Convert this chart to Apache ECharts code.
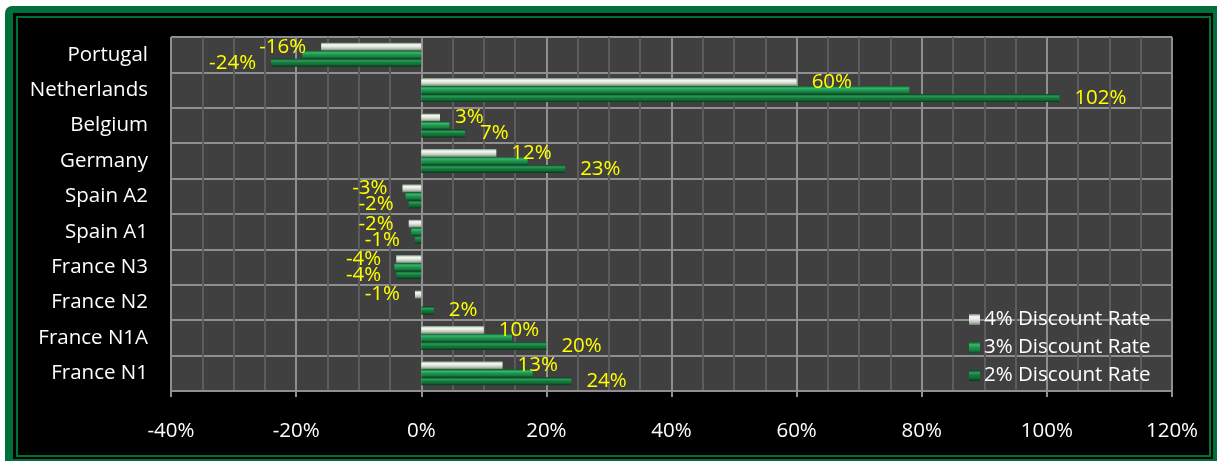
<!DOCTYPE html>
<html>
<head>
<meta charset="utf-8">
<script src="https://cdn.jsdelivr.net/npm/echarts@6/dist/echarts.min.js"></script>
<style>
  html, body { margin: 0; padding: 0; background: #ffffff; }
  #chart { width: 1217px; height: 461px; }
</style>
</head>
<body>
<div id="chart"></div>
<script>
// Regions, listed top to bottom
const categories = ['Portugal', 'Netherlands', 'Belgium', 'Germany', 'Spain A2',
  'Spain A1', 'France N3', 'France N2', 'France N1A', 'France N1'];

// Change in value (%) under each discount rate
const rate4 = [-16, 60, 3, 12, -3, -2, -4, -1, 10, 13];
const rate3 = [-19, 78, 4.5, 17, -2.5, -1.6, -4.3, 0, 14.5, 17.8];
const rate2 = [-24, 102, 7, 23, -2, -1, -4, 2, 20, 24];

const seriesNames = ['4% Discount Rate', '3% Discount Rate', '2% Discount Rate'];

// Axis range and tick step (%)
const axisMin = -40;
const axisMax = 120;
const axisStep = 20;

const FONT = '"Open Sans", "Noto Sans", sans-serif';

function bevel(stops) {
  return new echarts.graphic.LinearGradient(0, 0, 0, 1,
    stops.map((c, i) => ({ offset: i / (stops.length - 1), color: c })));
}

const fills = [
  bevel(['#7d8a7d', '#f4fbf2', '#dfe9dc', '#b7c4b4', '#6e7a6c']),
  bevel(['#0c5a2b', '#37b86a', '#1f9550', '#178242', '#0a4a24']),
  bevel(['#083f1e', '#2a9c58', '#167a3d', '#106832', '#06361a'])
];

// Labels sit past the bar's end: right for gains, left for losses
function labelled(values) {
  return values.map(v => ({
    value: v,
    label: { position: v < 0 ? 'left' : 'right' }
  }));
}

const labelStyle = {
  show: true,
  distance: 15,
  color: '#ffff00',
  fontFamily: FONT,
  fontSize: 20.5,
  formatter: p => p.value + '%'
};

const chart = echarts.init(document.getElementById('chart'), null, { renderer: 'canvas' });

chart.setOption({
  backgroundColor: '#ffffff',
  animation: false,
  graphic: [
    { type: 'rect', z: -30, silent: true,
      shape: { x: 5, y: 6, width: 1225, height: 470, r: 7 },
      style: { fill: '#00703a' } },
    { type: 'rect', z: -29, silent: true,
      shape: { x: 13, y: 13, width: 1200, height: 446 },
      style: { fill: '#000000' } },
    { type: 'rect', z: -28, silent: true,
      shape: { x: 17, y: 17, width: 1193, height: 439 },
      style: { fill: 'none', stroke: '#00703a', lineWidth: 2 } }
  ],
  grid: {
    left: 171, right: 45, top: 37, bottom: 70,
    show: true, backgroundColor: '#404040', borderWidth: 0
  },
  legend: {
    orient: 'vertical',
    left: 964, top: 304,
    itemWidth: 11, itemHeight: 11, itemGap: 7,
    icon: 'rect',
    textStyle: { color: '#ffffff', fontFamily: FONT, fontSize: 20.5, padding: [0, 0, 0, -1] },
    data: seriesNames
  },
  xAxis: {
    type: 'value',
    min: axisMin, max: axisMax, interval: axisStep,
    axisLine: { show: true, lineStyle: { color: '#8f8f8f', width: 2 } },
    axisTick: { show: true, length: 6, lineStyle: { color: '#8f8f8f', width: 2 } },
    axisLabel: {
      color: '#ffffff', fontFamily: FONT, fontSize: 20.5, margin: 30,
      formatter: '{value}%'
    },
    splitLine: { show: true, lineStyle: { color: '#8f8f8f', width: 2 } },
    minorTick: { show: false, splitNumber: 4 },
    minorSplitLine: { show: true, lineStyle: { color: '#5c5c5c', width: 2 } }
  },
  yAxis: {
    type: 'category',
    inverse: true,
    data: categories,
    axisLine: { show: false },
    axisTick: { show: false },
    axisLabel: { color: '#ffffff', fontFamily: FONT, fontSize: 20.5, margin: 23 },
    splitLine: { show: true, lineStyle: { color: '#8f8f8f', width: 2 } }
  },
  series: [
    { name: seriesNames[0], type: 'bar', data: labelled(rate4), barWidth: 8, barGap: '0%',
      itemStyle: { color: fills[0] }, label: labelStyle },
    { name: seriesNames[1], type: 'bar', data: rate3, barWidth: 8, barGap: '0%',
      itemStyle: { color: fills[1] } },
    { name: seriesNames[2], type: 'bar', data: labelled(rate2), barWidth: 8, barGap: '0%',
      itemStyle: { color: fills[2] }, label: labelStyle }
  ]
});
</script>
</body>
</html>
